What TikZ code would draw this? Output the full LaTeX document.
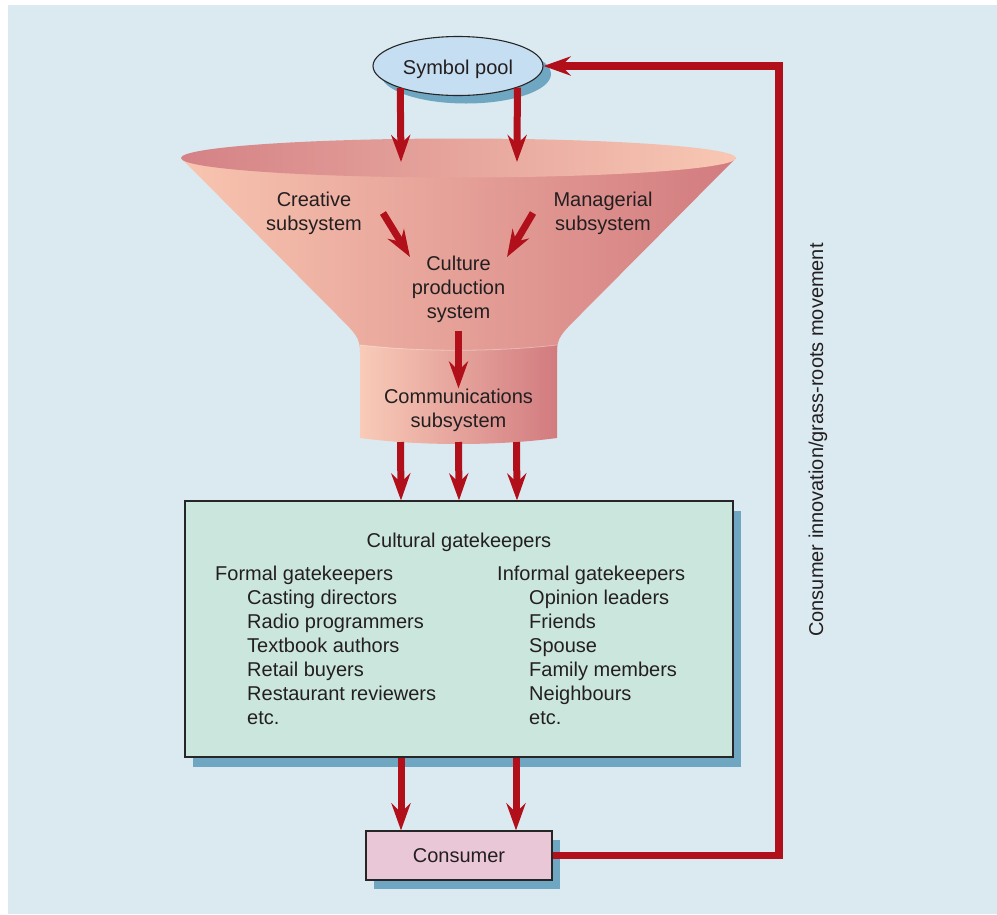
\documentclass[tikz,border=0pt]{standalone}
\usepackage{fontspec}
\setmainfont{Liberation Sans}
\usetikzlibrary{shapes.geometric,arrows.meta,shadows,calc}
\definecolor{bgc}{HTML}{DBEAF1}
\definecolor{arrred}{HTML}{B10F19}
\definecolor{poolfill}{HTML}{C6DEF2}
\definecolor{shad}{HTML}{6FA7C2}
\definecolor{gatefill}{HTML}{CBE6DD}
\definecolor{consfill}{HTML}{EAC7D6}
\definecolor{txtc}{HTML}{231F20}
\definecolor{funlight}{HTML}{F8C5B0}
\definecolor{fundark}{HTML}{D27B7F}
\begin{document}
\begin{tikzpicture}[x=1pt,y=-1pt,
  lbl/.style={font=\fontsize{20}{24}\selectfont, text=txtc, inner sep=0pt},
  ctr/.style={lbl, align=center},
  redarr/.style={draw=arrred, line width=7pt, -{Stealth[length=27pt,width=19pt,inset=9pt]}},
  redline/.style={draw=arrred, line width=7.5pt, line join=miter, -{Stealth[length=27pt,width=19pt,inset=9pt]}},
  boxshape/.style={draw=black!85, line width=1.1pt, rectangle, inner sep=0pt}
]
\useasboundingbox (0,0) rectangle (997,914);
\fill[bgc] (8,5) rectangle (997,914);

% funnel cone
\shade[left color=funlight, right color=fundark]
  (181,158) -- (338,316) .. controls (356,334) and (360,338) .. (360,352)
  -- (557,352) .. controls (557,338) and (561,334) .. (579,316) -- (736,158) -- cycle;
% funnel top
\shade[left color=fundark!95!white, right color=funlight!95!white]
  (458.5,158) ellipse [x radius=277.5pt, y radius=19.5pt];
% neck
\shade[left color=funlight!90!white, right color=fundark]
  (360,345) .. controls (420,352) and (497,352) .. (557,345)
  -- (557,438) .. controls (497,446) and (420,446) .. (360,438) -- cycle;
\draw[white, opacity=0.35, line width=0.8pt]
  (360,345) .. controls (420,352) and (497,352) .. (557,345);
\coordinate (ftopL) at (401,162);
\coordinate (ftopR) at (517,162);
\coordinate (neckb) at (458.5,442);
\coordinate (crtail) at (383,213);
\coordinate (crtip) at (410,257);
\coordinate (mgtail) at (533,213);
\coordinate (mgtip) at (507,257);

% nodes
\node[ellipse, draw=black!85, line width=1.1pt, fill=poolfill, minimum width=170pt, minimum height=59pt,
  text height=20.6pt, text depth=4.2pt, font=\fontsize{20}{24}\selectfont, text=txtc,
  drop shadow={shadow xshift=8pt, shadow yshift=-8pt, fill=shad, opacity=1}] (pool) at (458,66) {Symbol pool};

\node[ctr] (creative) at (314,213.8) {Creative\\subsystem};
\node[ctr] (managerial) at (603,213.8) {Managerial\\subsystem};
\node[ctr] (culture) at (458.5,289) {Culture\\production\\system};
\node[ctr] (comm) at (458.5,410) {Communications\\subsystem};

\node[boxshape, fill=gatefill, minimum width=548pt, minimum height=256pt,
  drop shadow={shadow xshift=8pt, shadow yshift=-10pt, fill=shad, opacity=1}] (gate) at (459,629) {};
\node[lbl, anchor=base] (gtitle) at (459,547) {Cultural gatekeepers};
\node[lbl, anchor=base west] (formal) at (215,580) {Formal gatekeepers};
\foreach \t [count=\i] in {Casting directors, Radio programmers, Textbook authors, Retail buyers, Restaurant reviewers, etc.}
  \node[lbl, anchor=base west] (fl\i) at (247,{580+24*\i}) {\t};
\node[lbl, anchor=base west] (informal) at (497,580) {Informal gatekeepers};
\foreach \t [count=\i] in {Opinion leaders, Friends, Spouse, Family members, Neighbours, etc.}
  \node[lbl, anchor=base west] (il\i) at (529,{580+24*\i}) {\t};

\node[boxshape, fill=consfill, minimum width=186pt, minimum height=49pt,
  font=\fontsize{20}{24}\selectfont, text=txtc,
  drop shadow={shadow xshift=8pt, shadow yshift=-9pt, fill=shad, opacity=1}] (cons) at (459,855.5) {Consumer};

\node[lbl, rotate=90, anchor=base] (fbtext) at (823,440) {Consumer innovation/grass-roots movement};

% arrows
\draw[redarr] (pool.201) -- (ftopL);
\draw[redarr] (pool.340) -- (ftopR);
\draw[redarr] (crtail) -- (crtip);
\draw[redarr] (mgtail) -- (mgtip);
\draw[redarr] ([yshift=-8pt]culture.south) -- (comm.north);
\draw[redarr] ([xshift=-58pt]neckb) -- ([xshift=-58pt]gate.north);
\draw[redarr] (neckb) -- (gate.north);
\draw[redarr] ([xshift=58pt]neckb) -- ([xshift=58pt]gate.north);
\draw[redarr] ([xshift=-58pt]gate.south) -- ([xshift=-58pt]cons.north);
\draw[redarr] ([xshift=57pt]gate.south) -- ([xshift=57pt]cons.north);
\coordinate (fb) at (779,66);
\draw[redline] (cons.east) -| (fb) -- (pool.east);
\end{tikzpicture}
\end{document}
